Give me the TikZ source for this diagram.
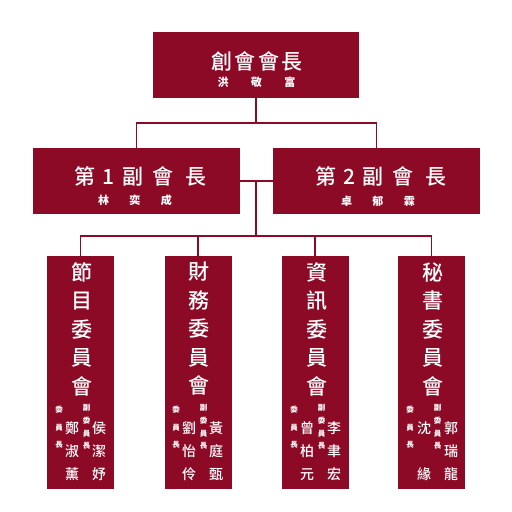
\documentclass[tikz,border=0pt]{standalone}
\usepackage{fontspec}
\setmainfont{Noto Sans CJK TC}
\newfontfamily\medfont{Noto Sans CJK TC Medium}
\definecolor{crim}{RGB}{140,10,38}
\newcommand\cc[1]{\makebox[0pt]{#1}}
\begin{document}
\begin{tikzpicture}[x=1pt,y=-1pt,
  box/.style={fill=crim,draw=none,inner sep=0pt,outer sep=0pt},
  wide/.style={box,minimum width=207pt,minimum height=66pt},
  tall/.style={box,minimum width=67pt,minimum height=233pt},
  conn/.style={draw=crim,line width=1.2pt},
  lbl/.style={text=white,inner sep=0pt,align=center},
  big/.style={lbl,font=\medfont\fontsize{21}{28.5}\selectfont},
  ttl/.style={lbl,font=\medfont\fontsize{21}{21}\selectfont},
  nm/.style={lbl,font=\fontsize{11}{11}\selectfont\bfseries},
  small3/.style={lbl,font=\fontsize{7.5}{17.5}\selectfont\bfseries},
  small4/.style={lbl,font=\fontsize{7.5}{12.7}\selectfont\bfseries},
  pname/.style={lbl,font=\medfont\fontsize{14}{23}\selectfont}]
\useasboundingbox[fill=white] (0,0) rectangle (512,512);

% boxes
\node[wide,minimum width=206pt] (pres) at (256,65) {};
\node[wide] (vp1) at (136.5,181) {};
\node[wide] (vp2) at (376.5,181) {};
\node[tall] (b1) at (80.5,372.5) {};
\node[tall] (b2) at (198,372.5) {};
\node[tall] (b3) at (315,372.5) {};
\node[tall] (b4) at (431.5,372.5) {};

% connectors
\coordinate (j1) at (256,123);
\coordinate (j2) at (256,181);
\coordinate (j3) at (256,236);
\draw[conn] (pres.south) -- (j1);
\draw[conn] (vp1.north) |- (j1) -| (vp2.north);
\draw[conn] (vp1.east) -- (vp2.west);
\draw[conn] (j2) -- (j3);
\draw[conn] (b1.north) |- (j3) -| (b4.north);
\draw[conn] (b2.north) -- (b2.north |- j3);
\draw[conn] (b3.north) -- (b3.north |- j3);

% top box text
\node[ttl] (presT) at (257,61)
  {\cc{創}\hspace{23.3pt}\cc{會}\hspace{23.3pt}\cc{會}\hspace{23.3pt}\cc{長}};
\node[nm] (presN) at (256.5,82)
  {\cc{洪}\hspace{33.5pt}\cc{敬}\hspace{33.5pt}\cc{富}};

% vice presidents
\node[ttl] (vp1T) at (140.5,176)
  {\cc{第}\hspace{24pt}\cc{1}\hspace{24pt}\cc{副}\hspace{30pt}\cc{會}\hspace{33pt}\cc{長}};
\node[nm] (vp1N) at (135,200)
  {\cc{林}\hspace{31.5pt}\cc{奕}\hspace{31.5pt}\cc{成}};
\node[ttl] (vp2T) at (381,176)
  {\cc{第}\hspace{24pt}\cc{2}\hspace{24pt}\cc{副}\hspace{30pt}\cc{會}\hspace{33pt}\cc{長}};
\node[nm] (vp2N) at (378,201)
  {\cc{卓}\hspace{31.5pt}\cc{郁}\hspace{31.5pt}\cc{霖}};

% committee 1
\node[big] (t1) at (82,329) {節\\目\\委\\員\\會};
\node[small3] (s1a) at (59,427.5) {委\\員\\長};
\node[small4] (s1b) at (86.5,427) {副\\委\\員\\長};
\node[pname] (n1a) at (72,451) {鄭\\淑\\薰};
\node[pname] (n1b) at (99,451) {侯\\潔\\妤};

% committee 2
\node[big] (t2) at (199,329) {財\\務\\委\\員\\會};
\node[small3] (s2a) at (176,427.5) {委\\員\\長};
\node[small4] (s2b) at (203.5,427) {副\\委\\員\\長};
\node[pname] (n2a) at (189,451) {劉\\怡\\伶};
\node[pname] (n2b) at (216,451) {黃\\庭\\甄};

% committee 3
\node[big] (t3) at (317,329) {資\\訊\\委\\員\\會};
\node[small3] (s3a) at (294,427.5) {委\\員\\長};
\node[small4] (s3b) at (321.5,427) {副\\委\\員\\長};
\node[pname] (n3a) at (307,451) {曾\\柏\\元};
\node[pname] (n3b) at (334,451) {李\\聿\\宏};

% committee 4
\node[big] (t4) at (433,329) {秘\\書\\委\\員\\會};
\node[small3] (s4a) at (410,427.5) {委\\員\\長};
\node[small4] (s4b) at (437.5,427) {副\\委\\員\\長};
\node[pname] (n4a) at (424,451) {沈\\\phantom{緣}\\緣};
\node[pname] (n4b) at (451,451) {郭\\瑞\\龍};
\end{tikzpicture}
\end{document}
